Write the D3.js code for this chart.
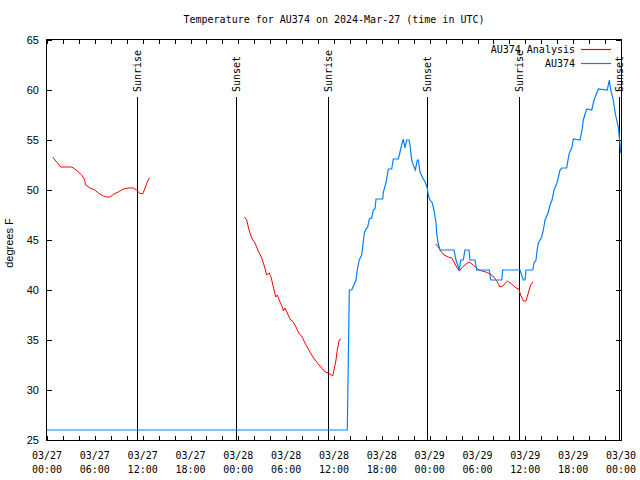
<!DOCTYPE html>
<html><head><meta charset="utf-8">
<script src="https://cdn.jsdelivr.net/npm/d3@7"></script>
<style>body{margin:0;background:#fff}svg{display:block}</style>
</head><body><svg id="c" width="640" height="480"></svg>
<script>
const chartTitle = "Temperature for AU374 on 2024-Mar-27 (time in UTC)";
const yAxisLabel = "degrees F";
const seriesNames = ["AU374 Analysis", "AU374"];
const seriesColors = ["#ff0000", "#0080ff"];
const startTime = "2024-03-27T00:00:00Z";
const spanHours = 72;
const tickDates = ["03/27","03/27","03/27","03/27","03/28","03/28","03/28","03/28","03/29","03/29","03/29","03/29","03/30"];
const tickTimes = ["00:00","06:00","12:00","18:00","00:00","06:00","12:00","18:00","00:00","06:00","12:00","18:00","00:00"];
const yTicks = [25,30,35,40,45,50,55,60,65];
const sunNames = ["Sunrise","Sunset","Sunrise","Sunset","Sunrise","Sunset"];
const sunHours = [11.25, 23.67, 35.28, 47.7, 59.25, 71.77];

// Analysis (red) : hours since start, temperature (null = gap)
const analysisHours = [
  0.72,1.0,1.42,1.72,3.1,3.5,3.93,4.35,4.68,4.85,5.4,6.0,6.43,7.06,7.49,7.9,8.4,8.94,9.57,10.2,10.83,11.25,11.58,12.0,12.3,12.58,12.83,
  null,
  24.75,25.05,25.25,25.46,25.75,26.09,26.5,26.93,27.22,27.56,27.88,28.1,28.39,28.69,28.89,29.23,29.52,29.64,29.85,30.14,30.48,30.9,31.23,31.65,31.95,32.36,32.78,33.2,33.62,34.03,34.46,34.87,35.29,35.84,36.0,36.25,36.41,36.66,36.88,
  null,
  48.76,49.08,49.38,49.8,50.34,50.77,51.05,51.39,51.72,52.14,52.56,52.93,53.48,53.98,54.53,55.07,55.57,56.07,56.49,56.82,57.16,57.74,58.29,58.83,59.17,59.42,59.75,60.08,60.37,60.67,60.93
];
const analysisTemps = [
  53.3,53.0,52.6,52.3,52.3,52.1,51.8,51.5,51.1,50.5,50.2,50.0,49.7,49.4,49.3,49.3,49.6,49.8,50.1,50.2,50.2,50.0,49.7,49.6,50.2,50.8,51.2,
  null,
  47.3,47.0,46.3,45.7,45.1,44.7,43.9,43.2,42.5,41.5,41.7,41.3,40.3,39.3,39.5,38.8,38.3,37.9,38.2,37.7,37.1,36.8,36.3,35.6,35.4,34.7,34.1,33.5,33.0,32.6,32.2,31.8,31.7,31.4,32.0,33.0,34.0,35.0,35.1,
  null,
  44.6,44.3,43.9,43.5,43.3,43.2,42.8,42.3,41.9,42.3,42.6,42.8,42.5,42.1,41.9,41.8,41.6,41.3,40.8,40.3,40.4,40.9,40.6,40.2,40.1,39.5,38.9,38.9,39.7,40.5,40.8
];

// Station observations (blue)
const obsHours = [
  0,37.67,37.92,38.22,38.76,38.92,39.17,39.47,39.6,39.8,40.02,40.23,40.43,40.73,40.93,41.14,41.27,42.11,42.19,42.52,42.81,43.24,43.44,44.07,44.28,44.49,44.69,44.91,45.12,45.41,45.53,45.75,45.95,46.2,46.45,46.58,46.79,47.13,47.42,47.7,47.83,48.04,48.33,48.54,48.8,48.88,49.08,49.3,
  51.05,51.3,51.52,51.72,51.8,51.89,52.22,52.43,52.93,53.06,53.68,53.9,55.48,55.66,57.04,57.16,59.33,59.75,59.96,60.08,60.93,61.09,61.34,61.43,61.63,61.84,62.05,62.26,
  62.47,62.85,63.1,63.35,63.6,63.97,64.35,64.56,65.19,65.31,65.52,65.82,66.02,66.86,67.15,67.27,67.7,68.33,68.62,69.16,70.28,70.53,70.71,71.04,71.25,71.46,71.66,71.87,71.96
];
const obsTemps = [
  26,26,40,40,41,42,43,43.5,44.3,45.7,46.1,46.3,47.1,47.2,48,48.1,49.1,49.1,49.8,50.7,52.1,52.1,53.1,53.1,53.8,54.5,55.1,54.2,55,55,54.5,53,52.5,52,53,53,51.8,51.2,50.8,50.2,49.5,49,48.7,48,46.7,45.7,44.6,44,
  44,43,42.5,42,42.5,43,43,44,44,43,43,42,42,41,41,42,42,41,41,42,42,42.7,43,43.7,44.7,45,45.3,46,
  47,47.7,48.5,49,50,50.7,52,52.2,52.2,52.8,53.7,54.2,55.1,55,56.2,57,58.1,58,59,60.1,60,61,60,59,57.8,57,56.3,54.7,53.7
];

const L = 47, R = 621, T = 40, B = 440;
const t0 = new Date(startTime);
const hr = h => new Date(t0.getTime() + h * 3600e3);
const svg = d3.select("#c");
const x = d3.scaleUtc().domain([t0, hr(spanHours)]).range([L, R]);
const y = d3.scaleLinear().domain([25, 65]).range([B, T]);
const mono = "'DejaVu Sans Mono', monospace";
const sans = "'Liberation Sans', Arial, sans-serif";

// Title
svg.append("text").attr("x", (L + R) / 2).attr("y", 23).attr("text-anchor", "middle")
  .style("font-family", mono).style("font-size", "10px").text(chartTitle);

// Axes ticks
const minorTicks = d3.range(0, spanHours + 1, 2).map(hr);
const majorTicks = d3.range(0, spanHours + 1, 6).map(hr);
function styleAxis(g) {
  g.select(".domain").remove();
  g.selectAll(".tick line").attr("stroke", "#000").attr("shape-rendering", "crispEdges");
}
svg.append("g").attr("transform", `translate(0,${B})`)
  .call(d3.axisBottom(x).tickValues(minorTicks).tickSize(-4).tickFormat(""))
  .call(styleAxis);
svg.append("g").attr("transform", `translate(0,${T})`)
  .call(d3.axisTop(x).tickValues(minorTicks).tickSize(-4).tickFormat(""))
  .call(styleAxis);
const yl = svg.append("g").attr("transform", `translate(${L},0)`)
  .call(d3.axisLeft(y).tickValues(yTicks).tickSize(-5).tickPadding(8))
  .call(styleAxis);
yl.selectAll(".tick text").style("font-family", sans).style("font-size", "11px").attr("fill", "#000");
svg.append("g").attr("transform", `translate(${R},0)`)
  .call(d3.axisRight(y).tickValues(yTicks).tickSize(-5).tickFormat(""))
  .call(styleAxis);

// X labels (two rows)
const xl = svg.append("g").style("font-family", mono).style("font-size", "10px").attr("text-anchor", "middle");
majorTicks.forEach((d, i) => {
  xl.append("text").attr("x", x(d)).attr("y", 459).text(tickDates[i]);
  xl.append("text").attr("x", x(d)).attr("y", 473).text(tickTimes[i]);
});

// Y axis title
svg.append("text").attr("transform", "translate(13,243) rotate(-90)").attr("text-anchor", "middle")
  .style("font-family", sans).style("font-size", "11px").text(yAxisLabel);

// Sun lines
const sun = svg.append("g");
sunHours.forEach((h, i) => {
  const xx = Math.round(x(hr(h))) + 0.5;
  sun.append("line").attr("x1", xx).attr("x2", xx).attr("y1", 97).attr("y2", B)
    .attr("stroke", "#000").attr("shape-rendering", "crispEdges");
  sun.append("text").attr("transform", `translate(${xx},92) rotate(-90)`)
    .attr("dominant-baseline", "central")
    .style("font-family", mono).style("font-size", "10px").text(sunNames[i]);
});

// Data lines
const line = d3.line().defined(d => d[0] != null && d[1] != null)
  .x(d => x(hr(d[0]))).y(d => y(d[1]));
const redPts = analysisHours.map((h, i) => [h, analysisTemps[i]]);
const bluePts = obsHours.map((h, i) => [h, obsTemps[i]]);
svg.append("path").datum(redPts).attr("d", line).attr("fill", "none")
  .attr("stroke", seriesColors[0]).attr("stroke-width", 1);
svg.append("path").datum(bluePts).attr("d", line).attr("fill", "none")
  .attr("stroke", seriesColors[1]).attr("stroke-width", 1.2);

// Border
svg.append("rect").attr("x", L - 0.5).attr("y", T - 0.5).attr("width", R - L + 1).attr("height", B - T + 1)
  .attr("fill", "none").attr("stroke", "#000").attr("shape-rendering", "crispEdges");

// Legend
const lg = svg.append("g").style("font-family", mono).style("font-size", "10px");
seriesNames.forEach((n, i) => {
  const yy = 49.5 + i * 14;
  lg.append("text").attr("x", 575).attr("y", yy + 3.5).attr("text-anchor", "end").text(n);
  lg.append("line").attr("x1", 581).attr("x2", 611).attr("y1", yy).attr("y2", yy)
    .attr("stroke", seriesColors[i]).attr("stroke-width", 1.2);
});
</script></body></html>
